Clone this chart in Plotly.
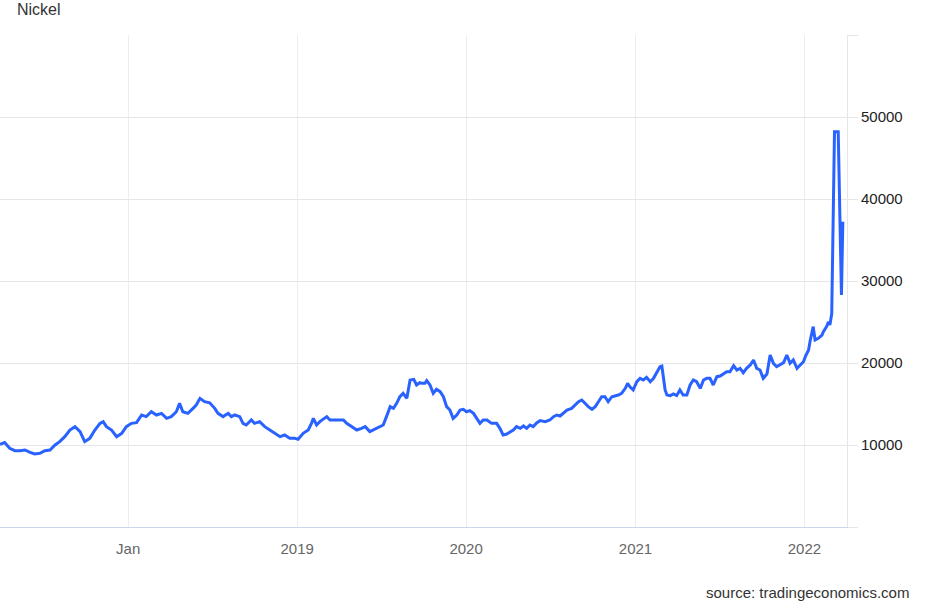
import plotly.graph_objects as go

dates = [
    "2017-03-30", "2017-04-09", "2017-04-20", "2017-05-01", "2017-05-12", "2017-05-23",
    "2017-06-03", "2017-06-13", "2017-06-24", "2017-07-05", "2017-07-16", "2017-07-27",
    "2017-08-06", "2017-08-17", "2017-08-28", "2017-09-08", "2017-09-19", "2017-09-29",
    "2017-10-10", "2017-10-21", "2017-11-01", "2017-11-08", "2017-11-15", "2017-11-26",
    "2017-12-07", "2017-12-18", "2017-12-28", "2018-01-08", "2018-01-19", "2018-01-30",
    "2018-02-09", "2018-02-20", "2018-03-03", "2018-03-14", "2018-03-25", "2018-04-04",
    "2018-04-15", "2018-04-22", "2018-04-29", "2018-05-10", "2018-05-21", "2018-05-28",
    "2018-06-05", "2018-06-15", "2018-06-26", "2018-07-07", "2018-07-14", "2018-07-25",
    "2018-08-05", "2018-08-12", "2018-08-19", "2018-08-30", "2018-09-06", "2018-09-13",
    "2018-09-24", "2018-10-01", "2018-10-12", "2018-10-23", "2018-11-03", "2018-11-14",
    "2018-11-25", "2018-12-05", "2018-12-16", "2018-12-27", "2019-01-03", "2019-01-14",
    "2019-01-25", "2019-02-01", "2019-02-05", "2019-02-12", "2019-02-19", "2019-03-06",
    "2019-03-13", "2019-03-24", "2019-04-03", "2019-04-11", "2019-04-18", "2019-04-29",
    "2019-05-10", "2019-05-20", "2019-05-28", "2019-06-07", "2019-06-18", "2019-06-29",
    "2019-07-06", "2019-07-13", "2019-07-21", "2019-07-28", "2019-08-04", "2019-08-11",
    "2019-08-18", "2019-08-26", "2019-09-02", "2019-09-10", "2019-09-16", "2019-09-23",
    "2019-09-27", "2019-10-04", "2019-10-08", "2019-10-15", "2019-10-22", "2019-10-29",
    "2019-11-06", "2019-11-13", "2019-11-20", "2019-11-27", "2019-12-04", "2019-12-12",
    "2019-12-19", "2019-12-26", "2020-01-02", "2020-01-09", "2020-01-17", "2020-01-24",
    "2020-01-31", "2020-02-07", "2020-02-15", "2020-02-25", "2020-03-07", "2020-03-14",
    "2020-03-21", "2020-03-29", "2020-04-05", "2020-04-12", "2020-04-19", "2020-04-27",
    "2020-05-04", "2020-05-11", "2020-05-18", "2020-05-25", "2020-06-02", "2020-06-09",
    "2020-06-20", "2020-06-30", "2020-07-08", "2020-07-15", "2020-07-22", "2020-07-29",
    "2020-08-06", "2020-08-16", "2020-08-23", "2020-08-31", "2020-09-07", "2020-09-14",
    "2020-09-21", "2020-09-29", "2020-10-06", "2020-10-13", "2020-10-20", "2020-10-27",
    "2020-11-03", "2020-11-11", "2020-11-18", "2020-11-25", "2020-12-02", "2020-12-10",
    "2020-12-15", "2020-12-20", "2020-12-27", "2021-01-04", "2021-01-11", "2021-01-18",
    "2021-01-25", "2021-02-02", "2021-02-09", "2021-02-16", "2021-02-23", "2021-02-27",
    "2021-03-02", "2021-03-06", "2021-03-10", "2021-03-17", "2021-03-24", "2021-03-31",
    "2021-04-07", "2021-04-14", "2021-04-22", "2021-04-29", "2021-05-06", "2021-05-13",
    "2021-05-21", "2021-05-28", "2021-06-04", "2021-06-11", "2021-06-18", "2021-06-26",
    "2021-07-03", "2021-07-10", "2021-07-17", "2021-07-24", "2021-08-01", "2021-08-08",
    "2021-08-15", "2021-08-22", "2021-08-29", "2021-09-06", "2021-09-13", "2021-09-20",
    "2021-09-27", "2021-10-04", "2021-10-12", "2021-10-19", "2021-10-26", "2021-11-02",
    "2021-11-09", "2021-11-17", "2021-11-24", "2021-12-01", "2021-12-08", "2021-12-16",
    "2021-12-23", "2021-12-30", "2022-01-03", "2022-01-10", "2022-01-13", "2022-01-20",
    "2022-01-24", "2022-01-31", "2022-02-08", "2022-02-11", "2022-02-18", "2022-02-22",
    "2022-02-25", "2022-03-01", "2022-03-07", "2022-03-15", "2022-03-22", "2022-03-25",
]

prices = [
    10090, 10290, 9600, 9310, 9310, 9390,
    9110, 8900, 8980, 9310, 9390, 10000,
    10410, 11020, 11830, 12240, 11630, 10410,
    10810, 11830, 12640, 12850, 12240, 11830,
    11020, 11420, 12240, 12640, 12720, 13660,
    13460, 14060, 13660, 13860, 13250, 13460,
    14060, 15080, 14060, 13860, 14470, 14880,
    15690, 15280, 15150, 14470, 13860, 13460,
    13860, 13460, 13660, 13460, 12640, 12440,
    13050, 12640, 12850, 12240, 11830, 11420,
    11020, 11220, 10810, 10810, 10690, 11420,
    11830, 12640, 13250, 12440, 12850, 13460,
    13050, 13050, 13050, 13050, 12640, 12240,
    11830, 12030, 12240, 11630, 11910, 12240,
    12440, 13460, 14680, 14470, 15080, 15890,
    16300, 15690, 17930, 18010, 17320, 17600,
    17520, 17520, 17850, 17320, 16300, 16790,
    16500, 15890, 14680, 14270, 13250, 13660,
    14270, 14350, 14060, 14190, 13860, 13250,
    12640, 13050, 13050, 12640, 12640, 12030,
    11220, 11340, 11630, 11830, 12240, 12030,
    12320, 12030, 12440, 12240, 12720, 12970,
    12850, 13050, 13460, 13660, 13540, 13860,
    14270, 14470, 14880, 15280, 15490, 15080,
    14680, 14350, 14680, 15280, 15890, 15890,
    15280, 15890, 15980, 16100, 16300, 16910,
    17520, 17100, 16710, 17720, 18130, 17930,
    18250, 17720, 18130, 18940, 19550, 19630,
    18330, 16710, 16100, 16020, 16220, 16020,
    16710, 16100, 16100, 17320, 17930, 17720,
    16910, 17930, 18130, 18130, 17320, 18330,
    18410, 18660, 18940, 18940, 19680, 19150,
    19350, 18820, 19350, 19760, 20370, 19350,
    19150, 18130, 18660, 20980, 19960, 19550,
    19760, 20040, 20980, 19960, 20370, 19350,
    19760, 20160, 20770, 21590, 22600, 24430,
    22810, 23010, 23410, 23820, 24430, 25040,
    24630, 26000, 48200, 48200, 28290, 37230,
]

x_tick_dates = ["2018-01-01", "2019-01-01", "2020-01-01", "2021-01-01", "2022-01-01"]
x_tick_labels = ["Jan", "2019", "2020", "2021", "2022"]
y_tick_values = [0, 10000, 20000, 30000, 40000, 50000, 60000]
y_tick_labels = ["", "10000", "20000", "30000", "40000", "50000", ""]

FONT = "Liberation Sans, Arial, sans-serif"

fig = go.Figure()
fig.add_trace(go.Scatter(
    x=dates, y=prices, mode="lines",
    line=dict(color="#2962ff", width=3),
    hoverinfo="skip", showlegend=False,
))

fig.update_layout(
    width=938, height=606,
    margin=dict(l=0, r=91, t=35, b=79),
    paper_bgcolor="white", plot_bgcolor="white",
    font=dict(family=FONT, color="#333333"),
    title=dict(text="Nickel", x=0.018, xanchor="left", y=0.993, yanchor="top",
               font=dict(size=16, color="#333333", family=FONT)),
    annotations=[dict(text="source: tradingeconomics.com", xref="paper", yref="paper",
                      x=1.0, y=0, xanchor="right", yanchor="middle", yshift=-65,
                      xshift=64, showarrow=False,
                      font=dict(size=15, color="#333333", family=FONT))],
)

fig.update_xaxes(
    type="date", range=["2017-03-30", "2022-04-03"],
    tickmode="array", tickvals=x_tick_dates, ticktext=x_tick_labels,
    showgrid=True, gridcolor="#e8eef6", gridwidth=1,
    showline=True, linecolor="#ccd6eb", linewidth=1,
    ticks="", ticklabelstandoff=8,
    tickfont=dict(size=15, color="#666666", family=FONT),
    zeroline=False, fixedrange=True,
)

fig.update_yaxes(
    side="right", range=[0, 60000],
    tickmode="array", tickvals=y_tick_values, ticktext=y_tick_labels,
    showgrid=True, gridcolor="#e6e6e6", gridwidth=1,
    showline=True, linecolor="#e6e6e6", linewidth=1,
    ticks="outside", ticklen=10, tickcolor="#e6e6e6", tickwidth=1,
    tickfont=dict(size=15, color="#222222", family=FONT),
    zeroline=False, fixedrange=True,
)

fig.write_html(
    "out.html",
    config={"displayModeBar": False},
    post_script="document.body.style.margin='0';document.body.style.overflow='hidden';",
)
